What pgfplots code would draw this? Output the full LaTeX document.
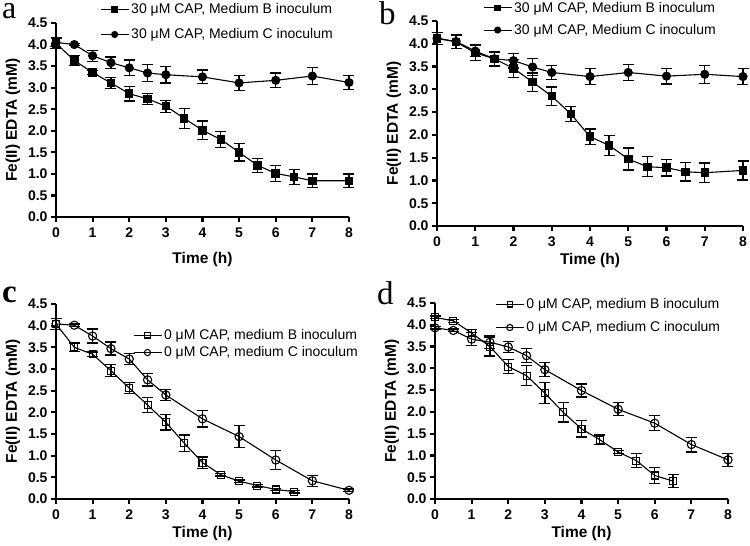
\documentclass[border=0pt]{standalone}
\usepackage{fontspec}
\setmainfont{Liberation Sans}
\newfontfamily\seriffont{Liberation Serif}
\usepackage{pgfplots}
\pgfplotsset{compat=1.18}
\usepackage{pgfplotstable}

\pgfplotstableread{
t v e
0 4.03 0.12
0.5 3.63 0.12
1 3.35 0.05
1.5 3.11 0.13
2 2.86 0.17
2.5 2.74 0.13
3 2.57 0.14
3.5 2.29 0.23
4 2.01 0.22
4.5 1.80 0.19
5 1.50 0.20
5.5 1.20 0.16
6 1.01 0.18
6.5 0.93 0.17
7 0.84 0.16
8 0.84 0.16
}\aB
\pgfplotstableread{
t v e
0 4.05 0.10
0.5 4.00 0.03
1 3.74 0.13
1.5 3.58 0.13
2 3.46 0.18
2.5 3.34 0.19
3 3.30 0.19
4 3.25 0.16
5 3.11 0.17
6 3.17 0.17
7 3.27 0.19
8 3.12 0.17
}\aC
\pgfplotstableread{
t v e
0 4.12 0.13
0.5 4.04 0.15
1 3.80 0.17
1.5 3.67 0.16
2 3.46 0.20
2.5 3.16 0.20
3 2.85 0.20
3.5 2.46 0.17
4 1.96 0.17
4.5 1.77 0.22
5 1.47 0.24
5.5 1.30 0.22
6 1.28 0.18
6.5 1.19 0.20
7 1.17 0.21
8 1.22 0.21
}\bB
\pgfplotstableread{
t v e
0 4.12 0.13
0.5 4.05 0.15
1 3.84 0.12
1.5 3.67 0.15
2 3.63 0.16
2.5 3.49 0.19
3 3.37 0.16
4 3.28 0.17
5 3.37 0.17
6 3.29 0.17
7 3.33 0.20
8 3.28 0.17
}\bC
\pgfplotstableread{
t v e
0 4.04 0.13
0.5 3.50 0.10
1 3.34 0.05
1.5 2.96 0.14
2 2.56 0.13
2.5 2.17 0.18
3 1.77 0.18
3.5 1.29 0.19
4 0.84 0.13
4.5 0.56 0.03
5 0.41 0.03
5.5 0.31 0.03
6 0.22 0.03
6.5 0.17 0.03
}\cB
\pgfplotstableread{
t v e
0 4.04 0.13
0.5 4.01 0.03
1 3.76 0.16
1.5 3.47 0.15
2 3.23 0.13
2.5 2.75 0.14
3 2.40 0.13
4 1.85 0.19
5 1.44 0.25
6 0.90 0.22
7 0.42 0.13
8 0.20 0.03
}\cC
\pgfplotstableread{
t v e
0 4.17 0.03
0.5 4.09 0.03
1 3.81 0.08
1.5 3.50 0.22
2 3.04 0.16
2.5 2.83 0.23
3 2.43 0.24
3.5 1.99 0.22
4 1.61 0.19
4.5 1.36 0.11
5 1.08 0.04
5.5 0.88 0.16
6 0.54 0.19
6.5 0.41 0.15
}\dB
\pgfplotstableread{
t v e
0 3.93 0.03
0.5 3.87 0.03
1 3.67 0.15
1.5 3.60 0.15
2 3.49 0.13
2.5 3.29 0.16
3 2.97 0.16
4 2.49 0.15
5 2.06 0.15
6 1.74 0.17
7 1.25 0.17
8 0.90 0.15
}\dC

\pgfplotsset{
  panel/.style={
    scale only axis,
    axis lines*=left,
    axis line style={line width=2.6pt},
    xmin=0,xmax=8,ymin=0,ymax=4.5,
    xtick={0,...,8},
    ytick={0,0.5,...,4.5},
    tick align=outside,
    major tick length=5pt,
    major tick style={line width=2.2pt, black},
    /pgf/number format/assume math mode=true,
    y tick label style={/pgf/number format/.cd,fixed,fixed zerofill,precision=1},
    tick label style={font=\fontsize{14}{14}\selectfont\bfseries},
    x tick label style={yshift=-2pt},
    xlabel={Time (h)},
    ylabel={Fe(II) EDTA (mM)},
    label style={font=\fontsize{15.5}{15.5}\selectfont\bfseries},
    ylabel style={yshift=1pt},
    clip=false,
    legend cell align=left,
    legend style={draw=none, fill=none, font=\fontsize{14}{14}\selectfont, anchor=west, inner sep=0pt},
    legend image code/.code={\draw[mark repeat=2,mark phase=2,##1,every mark/.append style={scale=0.75}] plot coordinates {(0pt,0pt) (14pt,0pt) (28pt,0pt)};},
  },
  ser/.style={black, line width=1.1pt, mark options={solid, line width=1.1pt},
     error bars/y dir=both, error bars/y explicit,
     error bars/error bar style={line width=1.3pt},
     error bars/error mark options={rotate=90, line width=1.3pt, mark size=5.5pt}},
}

\begin{document}
\begin{tikzpicture}[x=1pt,y=1pt]
\useasboundingbox (0,0) rectangle (750,546);

% panel a
\begin{axis}[panel, at={(56pt,329pt)}, anchor=south west, width=293pt, height=194pt,
  xlabel style={yshift=-8pt},
  legend style={at={(0.150,1.0055)}, row sep=9.5pt}]
\addplot[ser, mark=square*, mark size=3.7pt] table[x=t,y=v,y error=e]{\aB};
\addlegendentry{30 μM CAP, Medium B inoculum}
\addplot[ser, mark=*, mark size=4pt] table[x=t,y=v,y error=e]{\aC};
\addlegendentry{30 μM CAP, Medium C inoculum}
\end{axis}

% panel b
\begin{axis}[panel, at={(437pt,320pt)}, anchor=south west, width=306pt, height=205pt,
  legend style={at={(0.150,1.0098)}, row sep=6.5pt}]
\addplot[ser, mark=square*, mark size=3.7pt] table[x=t,y=v,y error=e]{\bB};
\addlegendentry{30 μM CAP, Medium B inoculum}
\addplot[ser, mark=*, mark size=4pt] table[x=t,y=v,y error=e]{\bC};
\addlegendentry{30 μM CAP, Medium C inoculum}
\end{axis}

% panel c
\begin{axis}[panel, at={(56pt,47pt)}, anchor=south west, width=293pt, height=195pt,
  legend style={at={(0.262,0.795)}, row sep=1.5pt}]
\addplot[ser, mark=square, mark size=3.5pt] table[x=t,y=v,y error=e]{\cB};
\addlegendentry{0 μM CAP, medium B inoculum}
\addplot[ser, mark=o, mark size=4.1pt] table[x=t,y=v,y error=e]{\cC};
\addlegendentry{0 μM CAP, medium C inoculum}
\end{axis}

% panel d
\begin{axis}[panel, at={(435pt,47pt)}, anchor=south west, width=293pt, height=196pt,
  legend style={at={(0.205,0.934)}, row sep=7.5pt}]
\addplot[ser, mark=square, mark size=3.5pt] table[x=t,y=v,y error=e]{\dB};
\addlegendentry{0 μM CAP, medium B inoculum}
\addplot[ser, mark=o, mark size=4.1pt] table[x=t,y=v,y error=e]{\dC};
\addlegendentry{0 μM CAP, medium C inoculum}
\end{axis}

\node[anchor=base west, inner sep=0pt, text height=15pt, text depth=0pt, font=\fontsize{32}{32}\selectfont\seriffont] at (2,527) {a};
\node[anchor=base west, inner sep=0pt, font=\fontsize{33}{33}\selectfont\seriffont] at (379,521) {b};
\node[anchor=base west, inner sep=0pt, font=\fontsize{33}{33}\selectfont\seriffont\bfseries] at (2,243) {c};
\node[anchor=base west, inner sep=0pt, font=\fontsize{33}{33}\selectfont\seriffont] at (377,241) {d};
\end{tikzpicture}
\end{document}
